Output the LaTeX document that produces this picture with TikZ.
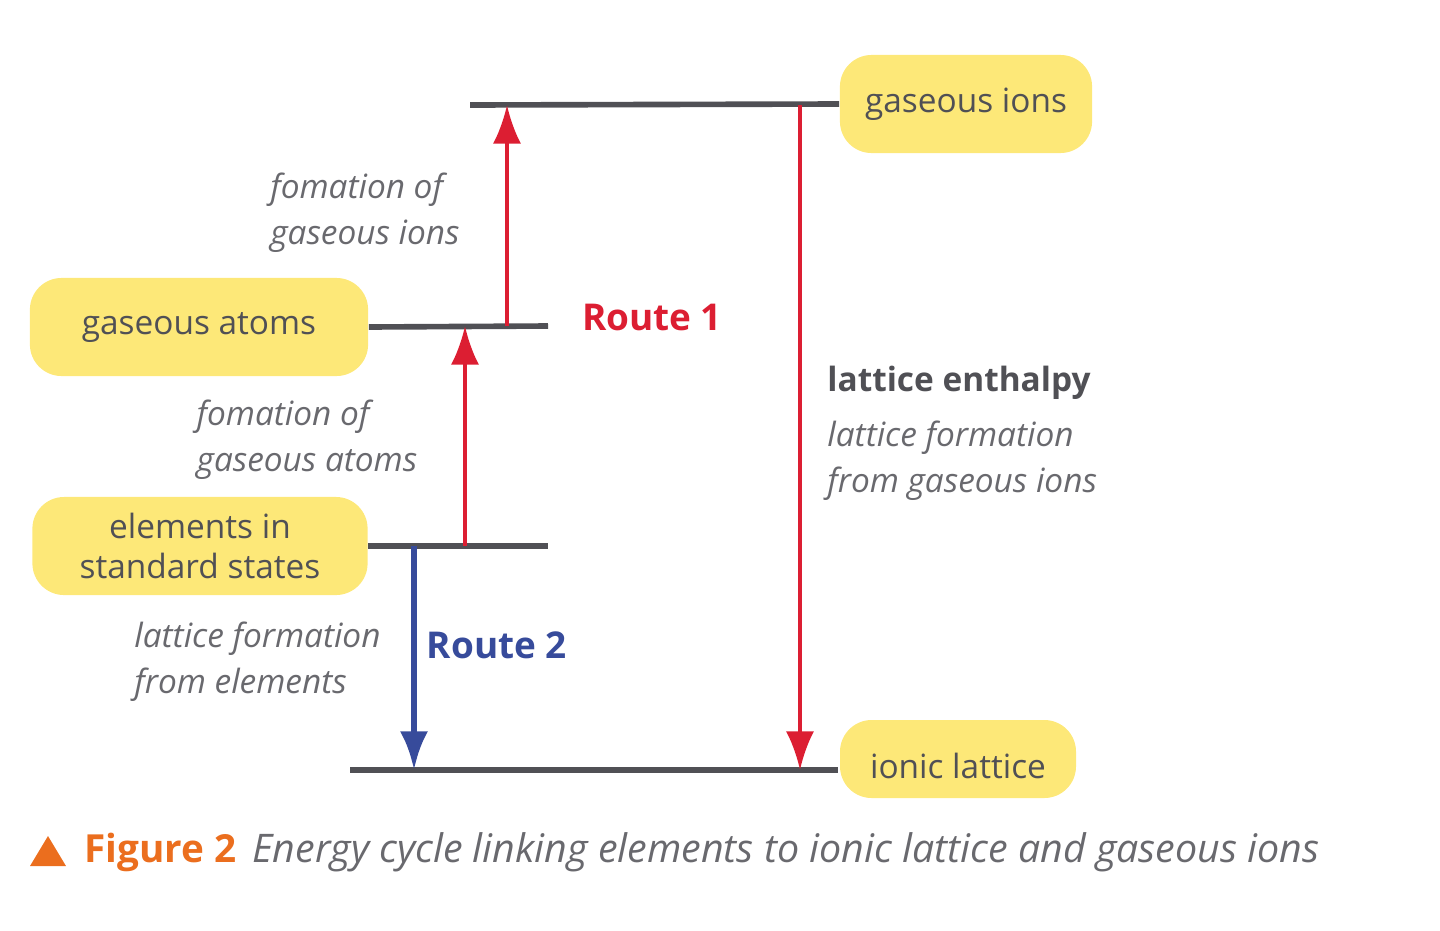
\documentclass[tikz,border=0pt]{standalone}
\usepackage{fontspec}
\setmainfont{Open Sans}
\usetikzlibrary{arrows.meta}
\definecolor{boxyel}{RGB}{253,232,120}
\definecolor{lvlgrey}{RGB}{80,80,85}
\definecolor{txtgrey}{RGB}{105,105,110}
\definecolor{routered}{RGB}{220,30,50}
\definecolor{routeblue}{RGB}{55,75,155}
\definecolor{figorange}{RGB}{235,110,30}
\tikzset{
  statebox/.style={fill=boxyel, rounded corners=9pt, font=\fontsize{9.5}{11.5}\selectfont, text=lvlgrey, align=center},
  level/.style={lvlgrey, line width=1.6pt},
  uparrow/.style={routered, line width=1.1pt, -{Latex[length=11pt,width=8pt]}},
  downarrow/.style={routeblue, line width=1.8pt, -{Latex[length=11pt,width=8pt]}},
  steplabel/.style={font=\fontsize{9.5}{13}\selectfont\itshape, text=txtgrey, align=left}
}
\begin{document}
\begin{tikzpicture}[x=0.01cm, y=-0.01cm]
      \useasboundingbox (0,0) rectangle (1440,930);

      % state boxes
      \node[statebox, minimum width=2.52cm, minimum height=0.98cm] (ions) at (966,104) {gaseous ions};
      \node[statebox, minimum width=3.38cm, minimum height=0.98cm] (atoms) at (199,327) {gaseous atoms};
      \node[statebox, minimum width=3.35cm, minimum height=0.98cm] (elements) at (200,546) {elements in\\standard states};
      \fill[boxyel, rounded corners=9pt] (840,798) -- (840,720) -- (1076,720) -- (1076,798) -- cycle;
      \node[font=\fontsize{9.5}{11.5}\selectfont, text=lvlgrey] (lattice) at (958,766) {ionic lattice};

      % levels
      \coordinate (topL) at (470,105);
      \coordinate (midR) at (548,326);
      \coordinate (lowR) at (548,546);
      \coordinate (botL) at (350,770);
      \coordinate (botR) at (838,770);
      \draw[level] (topL) -- (ions.west);
      \draw[level] (atoms.east) -- (midR);
      \draw[level] (elements.east) -- (lowR);
      \draw[level] (botL) -- (botR);

      % arrows
      \draw[uparrow] (465,546) -- (465,326);
      \draw[uparrow] (507,326) -- (507,105);
      \draw[uparrow] (800,105) -- (800,770);
      \draw[downarrow] (414,546) -- (414,770);

      % labels
      \node[steplabel] (l1) at (365,213) {fomation of\\gaseous ions};
      \node[steplabel] (l2) at (307,440) {fomation of\\gaseous atoms};
      \node[steplabel, anchor=west] (l3) at (122,662) {lattice formation\\from elements};
      \node[steplabel, anchor=west] (l4) at (815,461) {lattice formation\\from gaseous ions};
      \node[font=\fontsize{9.5}{11.5}\selectfont\bfseries, text=lvlgrey, anchor=west] (le) at (815,383) {lattice enthalpy};
      \node[font=\fontsize{10.5}{12}\selectfont\bfseries, text=routered] (r1) at (652,317) {Route 1};
      \node[font=\fontsize{10.5}{12}\selectfont\bfseries, text=routeblue] (r2) at (497,645) {Route 2};

      % caption
      \fill[figorange] (30,866) -- (66,866) -- (48,836) -- cycle;
      \node[anchor=west, font=\fontsize{11}{13}\selectfont\bfseries, text=figorange] (fig) at (72,852) {Figure 2};
      \node[anchor=west, font=\fontsize{11.2}{13}\selectfont\itshape, text=txtgrey] (cap) at (240,852) {Energy cycle linking elements to ionic lattice and gaseous ions};
    \end{tikzpicture}
\end{document}
